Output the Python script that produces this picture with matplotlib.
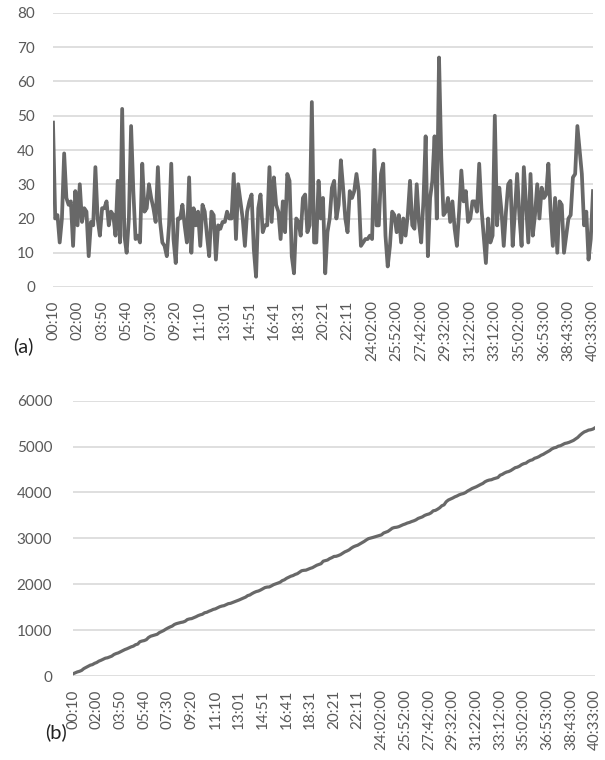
import numpy as np
import matplotlib.pyplot as plt

plt.rcParams['font.family'] = ['Lato', 'DejaVu Sans']

# tick labels shown under both charts (one every 11 samples)
time_labels = ['00:10', '02:00', '03:50', '05:40', '07:30', '09:20', '11:10',
               '13:01', '14:51', '16:41', '18:31', '20:21', '22:11',
               '24:02:00', '25:52:00', '27:42:00', '29:32:00', '31:22:00',
               '33:12:00', '35:02:00', '36:53:00', '38:43:00', '40:33:00']

# (a) values per sample
per_sample = [
    48, 20, 21, 13, 20, 39, 26, 24, 25, 12,
    28, 18, 30, 19, 23, 22, 9, 19, 18, 35, 20,
    15, 23, 23, 25, 18, 22, 21, 15, 31, 13,
    52, 15, 10, 20, 47, 28, 14, 15, 13, 36,
    22, 23, 30, 26, 23, 19, 35, 19, 13, 12,
    9, 18, 36, 14, 7, 20, 20, 24, 18, 13, 32,
    10, 23, 18, 22, 12, 24, 22, 15, 9, 22,
    21, 8, 18, 17, 19, 19, 22, 20, 20, 33, 14,
    30, 25, 20, 12, 22, 25, 27, 11, 3, 23,
    27, 16, 18, 18, 35, 19, 32, 24, 22, 14,
    25, 16, 33, 31, 9, 4, 20, 19, 15, 26,
    27, 16, 18, 54, 13, 13, 31, 20,
    26, 4, 16, 20, 29, 31, 20, 24, 37, 29,
    20, 16, 28, 26, 28, 33, 28, 12, 13, 14,
    14, 15, 14, 40, 18, 18, 33, 36, 15, 6,
    12, 22, 21, 16, 21, 13, 20, 15, 21, 31,
    18, 17, 30, 19, 13, 25, 44, 9, 26, 31,
    44, 20, 67, 38, 21, 22, 26, 19, 25, 17,
    12, 22, 34, 25, 28, 19, 20, 25,
    25, 22, 36, 23, 15, 7, 20, 13, 15, 50,
    18, 29, 22, 12, 22, 30, 31, 12, 22, 33,
    21, 12, 35, 24, 13, 33, 15, 21, 30, 20,
    29, 26, 27, 36, 22, 12, 26, 10, 25,
    24, 10, 15, 20, 21, 32, 33, 47, 40,
    33, 18, 22, 8, 14, 28,
]

# (b) is the running total of (a)
running_total = np.cumsum(per_sample)

LABEL_STEP = 11
LINE_COLOR = '#686868'
GRID_COLOR = '#d9d9d9'
TEXT_COLOR = '#595959'

fig = plt.figure(figsize=(6.05, 7.6), dpi=100)
ax1 = fig.add_axes([53 / 605, 1 - 287 / 760, 540 / 605, 274 / 760])
ax2 = fig.add_axes([73 / 605, 1 - 676 / 760, 522 / 605, 275.3 / 760])

x = np.arange(len(per_sample))
ax1.plot(x, per_sample, color=LINE_COLOR, lw=2.7)
ax2.plot(x, running_total, color=LINE_COLOR, lw=2.3)

for ax, ymax, ystep, pad in [(ax1, 80, 10, 13), (ax2, 6000, 1000, 15)]:
    ax.set_xlim(0, len(per_sample) - 1)
    ax.set_ylim(0, ymax)
    ax.set_yticks(np.arange(0, ymax + 1, ystep))
    ax.set_xticks(np.arange(0, len(per_sample), LABEL_STEP))
    ax.set_xticklabels(time_labels, rotation=90)
    ax.yaxis.grid(True, color=GRID_COLOR, lw=1.2)
    ax.set_axisbelow(True)
    for s in ax.spines.values():
        s.set_visible(False)
    ax.tick_params(axis='both', length=0, labelsize=11, labelcolor=TEXT_COLOR)
    ax.tick_params(axis='y', pad=pad)
    ax.tick_params(axis='x', pad=9.5)

fig.text(0.022, 1 - 346 / 760, '(a)', fontsize=14.5, color='#222222', va='center')
fig.text(0.075, 1 - 732 / 760, '(b)', fontsize=14.5, color='#222222', va='center')

fig.savefig('out.png', dpi=100)
